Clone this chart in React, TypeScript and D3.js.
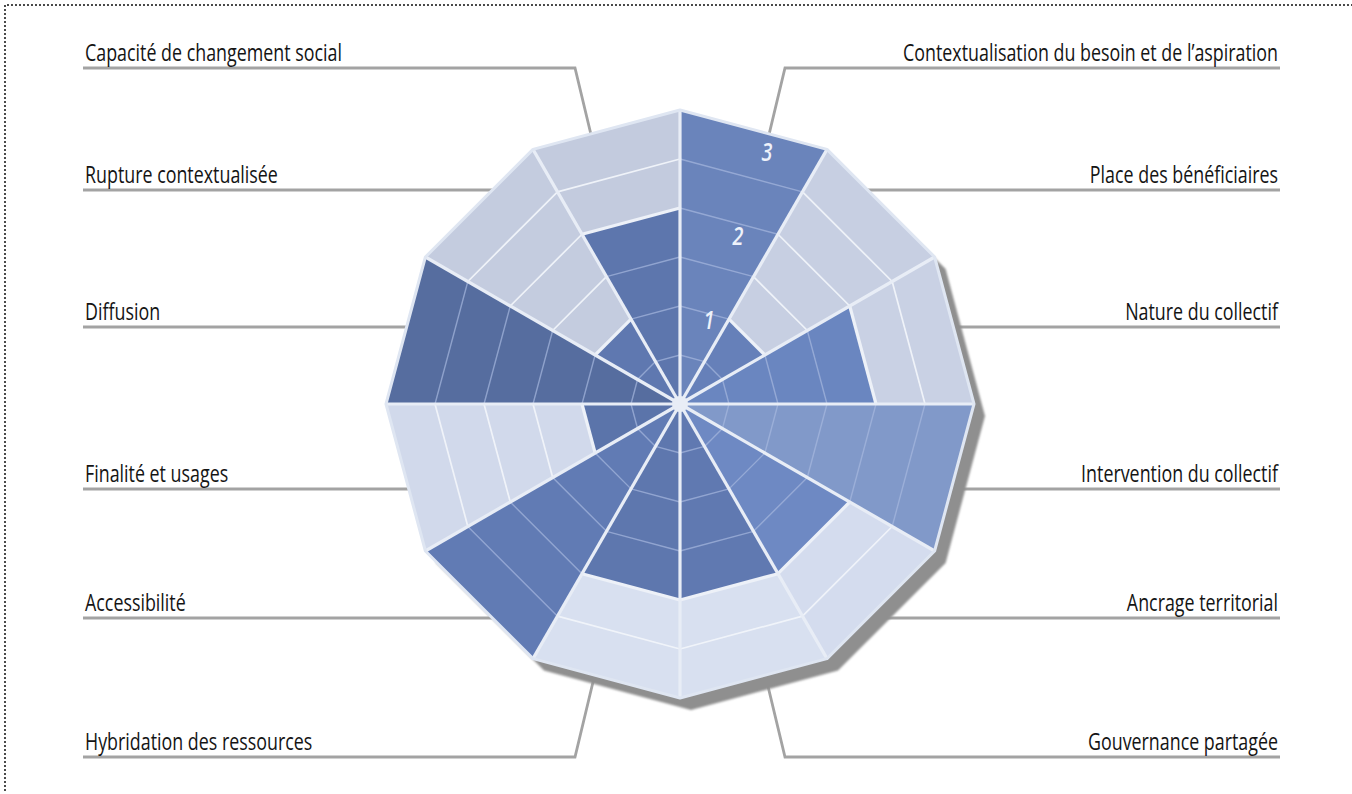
import React, { useEffect, useRef } from "react";
import * as d3 from "d3";

// criteria, clockwise from 12 o'clock
const criteria = [
  "Contextualisation du besoin et de l’aspiration",
  "Place des bénéficiaires",
  "Nature du collectif",
  "Intervention du collectif",
  "Ancrage territorial",
  "Gouvernance partagée",
  "Hybridation des ressources",
  "Accessibilité",
  "Finalité et usages",
  "Diffusion",
  "Rupture contextualisée",
  "Capacité de changement social",
];
const scores = [3, 1, 2, 3, 2, 2, 2, 3, 1, 3, 1, 2];
const scaleTicks = [1, 2, 3];
const gridLevels = [0.5, 1, 1.5, 2, 2.5, 3];

// per-sector shading (the original has a lighting effect)
const darkFill = ["#6a84bb", "#6680b9", "#6a86c0", "#8199c9", "#6e89c3", "#6079b1", "#5e77ae", "#617bb4", "#5b74aa", "#566d9f", "#5f78b0", "#5d76ad"];
const lightFill = ["#c9d1e3", "#c7cfe2", "#c9d1e4", "#cfd7ea", "#d4dcee", "#d8e0f0", "#d8e0f0", "#d5dcee", "#d1d9eb", "#cdd5e8", "#c4ccdf", "#c3cbde"];

// label rows (underline y), left column top->bottom and right column top->bottom
const rowY = [68, 190, 327, 489, 618, 757];
const leftOrder = [11, 10, 9, 8, 7, 6];
const rightOrder = [0, 1, 2, 3, 4, 5];

const W = 1352;
const H = 794;
const FONT = "'Open Sans', 'Noto Sans', 'DejaVu Sans', sans-serif";
const FONT_SIZE = 23.5;
// width of "Capacité de changement social" in the original (condensed face)
const REF_WIDTH = 257;

const RadarSectors: React.FC = () => {
  const svgRef = useRef<SVGSVGElement | null>(null);

  useEffect(() => {
    if (!svgRef.current) return;
    const svg = d3.select(svgRef.current);
    svg.selectAll("*").remove();

    const cx = 680;
    const cy = 404;
    const R = 294;
    const n = criteria.length;

    const r = d3.scaleLinear().domain([0, 3]).range([0, R]);
    const ang = d3.scaleLinear().domain([0, n]).range([0, 2 * Math.PI]);
    const pt = (i: number, v: number): [number, number] => [
      cx + r(v) * Math.sin(ang(i)),
      cy - r(v) * Math.cos(ang(i)),
    ];
    const line = d3.line();

    svg.append("rect").attr("width", W).attr("height", H).attr("fill", "#ffffff");

    // dotted frame
    svg.append("path")
      .attr("d", `M${W},5 H5 V${H}`)
      .attr("fill", "none")
      .attr("stroke", "#222")
      .attr("stroke-width", 2.2)
      .attr("stroke-linecap", "round")
      .attr("stroke-dasharray", "0 4");

    const defs = svg.append("defs");
    defs.append("filter").attr("id", "soft")
      .attr("x", "-10%").attr("y", "-10%").attr("width", "120%").attr("height", "120%")
      .append("feGaussianBlur").attr("stdDeviation", 1.3);

    // leader lines (behind polygon)
    const leaders = svg.append("g")
      .attr("fill", "none")
      .attr("stroke", "#a3a3a3")
      .attr("stroke-width", 2.8);
    const lean = 0.24;
    rowY.forEach((y, k) => {
      const diag = k === 0 || k === rowY.length - 1;
      const dir = k === 0 ? 1 : -1;
      if (diag) {
        const lx = cx - 105;
        const rx = cx + 105;
        leaders.append("path").attr("d", line([[83, y], [lx, y], [lx + lean * 140, y + dir * 140]]));
        leaders.append("path").attr("d", line([[1280, y], [rx, y], [rx - lean * 140, y + dir * 140]]));
      } else {
        leaders.append("path").attr("d", line([[83, y], [cx, y]]));
        leaders.append("path").attr("d", line([[cx, y], [1280, y]]));
      }
    });

    const outer = d3.range(n).map(i => pt(i, 3));

    // drop shadow
    svg.append("path")
      .attr("d", line(outer) + "Z")
      .attr("transform", "translate(11,12)")
      .attr("fill", "#8f8f8f")
      .attr("filter", "url(#soft)");

    const chart = svg.append("g");

    // sectors: light full wedge + dark wedge up to score
    criteria.forEach((_, i) => {
      chart.append("path")
        .attr("d", line([[cx, cy], pt(i, 3), pt(i + 1, 3)]) + "Z")
        .attr("fill", lightFill[i]);
      chart.append("path")
        .attr("d", line([[cx, cy], pt(i, scores[i]), pt(i + 1, scores[i])]) + "Z")
        .attr("fill", darkFill[i]);
    });

    // ring grid
    criteria.forEach((_, i) => {
      gridLevels.filter(l => l < 3).forEach(l => {
        const inside = l < scores[i];
        const edge = l === scores[i];
        chart.append("path")
          .attr("d", line([pt(i, l), pt(i + 1, l)]))
          .attr("fill", "none")
          .attr("stroke", edge ? "#edf1f8" : inside ? "#a6b8de" : "#f1f4fa")
          .attr("stroke-opacity", edge ? 1 : inside ? 0.7 : 0.95)
          .attr("stroke-width", edge ? 3.2 : inside ? 1.4 : 1.7);
      });
    });

    // spokes
    d3.range(n).forEach(i => {
      chart.append("path")
        .attr("d", line([[cx, cy], pt(i, 3)]))
        .attr("stroke", "#e8edf6")
        .attr("stroke-width", 3.2);
    });

    // outline
    chart.append("path")
      .attr("d", line(outer) + "Z")
      .attr("fill", "none")
      .attr("stroke", "#dfe6f2")
      .attr("stroke-width", 3)
      .attr("stroke-linejoin", "round");

    chart.append("circle")
      .attr("cx", cx).attr("cy", cy).attr("r", 8)
      .attr("fill", "#e8edf6");

    // horizontal compression to mimic the condensed face of the original
    const probe = svg.append("text")
      .attr("font-family", FONT)
      .attr("font-size", FONT_SIZE)
      .text(criteria[11]);
    const measured = (probe.node() as SVGTextElement).getComputedTextLength() || REF_WIDTH;
    probe.remove();
    const k = REF_WIDTH / measured;

    // scale numbers in the first sector
    const tickAngle = (19 / 360) * 2 * Math.PI;
    scaleTicks.forEach(t => {
      const rr = r(t) - 9 * t;
      svg.append("text")
        .attr("transform", `translate(${cx + rr * Math.sin(tickAngle)},${cy - rr * Math.cos(tickAngle)}) scale(${k},1)`)
        .attr("dy", "0.36em")
        .attr("text-anchor", "middle")
        .attr("font-family", FONT)
        .attr("font-style", "italic")
        .attr("font-weight", 600)
        .attr("font-size", 26)
        .attr("fill", "#eef2fa")
        .text(String(t));
    });

    // criterion labels
    const labels = svg.append("g")
      .attr("font-family", FONT)
      .attr("font-size", FONT_SIZE)
      .attr("fill", "#141414");
    leftOrder.forEach((ci, j) => {
      labels.append("text")
        .attr("transform", `translate(85,${rowY[j] - 7}) scale(${k},1)`)
        .attr("text-anchor", "start")
        .text(criteria[ci]);
    });
    rightOrder.forEach((ci, j) => {
      labels.append("text")
        .attr("transform", `translate(1278,${rowY[j] - 7}) scale(${k},1)`)
        .attr("text-anchor", "end")
        .text(criteria[ci]);
    });
  }, []);

  return (
    <svg
      ref={svgRef}
      width={W}
      height={H}
      viewBox={`0 0 ${W} ${H}`}
      style={{ position: "absolute", left: 0, top: 0, display: "block" }}
    />
  );
};

export default function App() {
  return <RadarSectors />;
}
